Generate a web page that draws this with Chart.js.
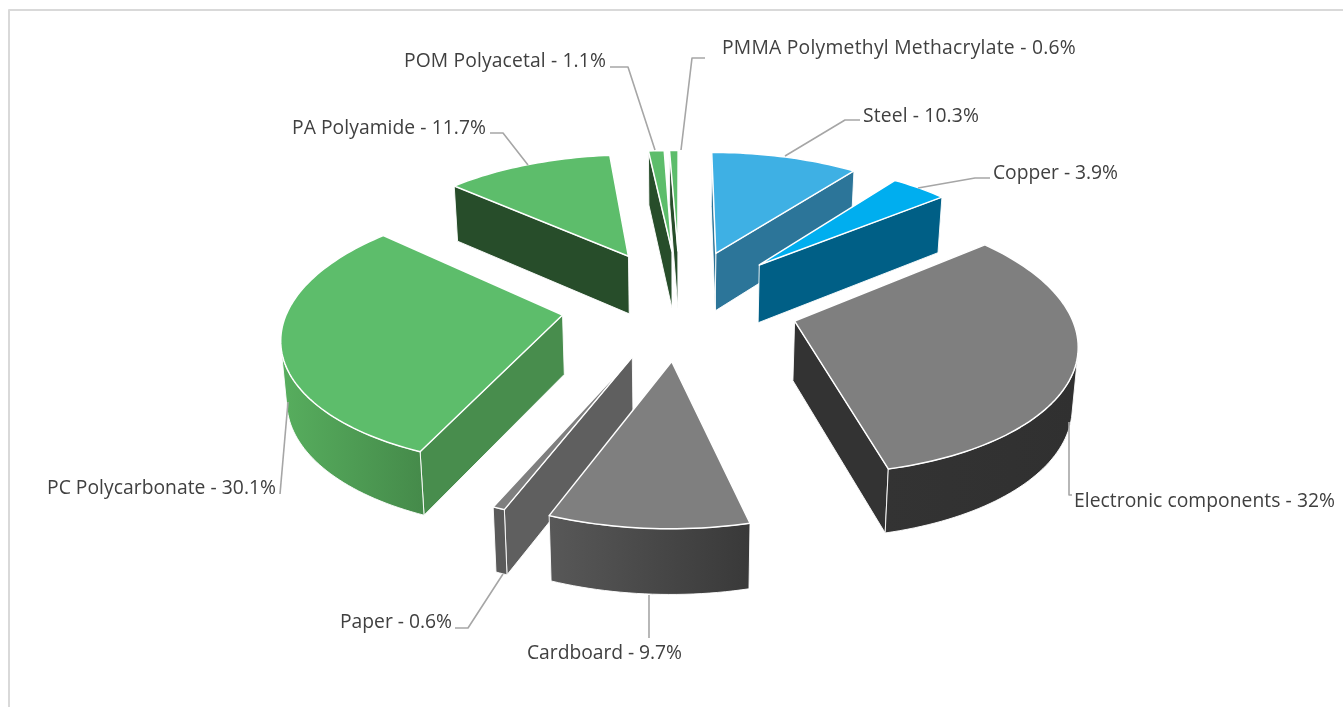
<!DOCTYPE html>
<html><head><meta charset="utf-8">
<style>html,body{margin:0;padding:0;background:#fff}#w{position:absolute;left:0;top:0;width:1343px;height:707px}</style>
<script src="https://cdn.jsdelivr.net/npm/chart.js@4"></script></head>
<body><div id="w"><canvas id="c" width="1343" height="707"></canvas></div>
<script>
const categories=['Steel','Copper','Electronic components','Cardboard','Paper','PC Polycarbonate','PA Polyamide','POM Polyacetal','PMMA Polymethyl Methacrylate'];
const values=[10.3,3.9,32,9.7,0.6,30.1,11.7,1.1,0.6];
const valueText=['10.3%','3.9%','32%','9.7%','0.6%','30.1%','11.7%','1.1%','0.6%'];
const topColors=['#3EB0E4','#00AEEF','#7F7F7F','#7F7F7F','#7F7F7F','#5DBD6B','#5DBD6B','#5DBD6B','#5DBD6B'];
const cutColors=['#2C7599','#005F86','#333333','#5A5A5A','#5F5F5F','#488D4D','#274D2A','#274D2A','#274D2A'];
const wallFrom=['#2C7599','#005F86','#333333','#585858','#5A5A5A','#57AE5E','#274D2A','#274D2A','#274D2A'];
const wallTo=['#2C7599','#005F86','#303030','#393939','#5A5A5A','#458A4A','#274D2A','#274D2A','#274D2A'];
// label layout: text left x, text middle y, text width, leader polyline
const labelX=[863,993,1074,527,340,47,292,404,722];
const labelY=[117,174,502,654,623,489,129,62,49];
const labelW=[116,125,261,155,112,229,194,202,354];
const leaders=[
 [[860,120],[845,120],[785,156]],
 [[990,178],[975,178],[918,188]],
 [[1072,495],[1069,495],[1069,422]],
 [[649,638],[649,595]],
 [[455,628],[468,628],[503,574]],
 [[280,494],[288,402]],
 [[490,133],[503,133],[528,165]],
 [[610,67],[628,67],[655,150]],
 [[705,58],[692,58],[681,150]]];
const EXPLODE=0.435, FLATTEN=0.465, PERSP=0.135, DEPTH=59, CONVERGE=0.985;

function face(ctx,pts,fill,sw,sc){
  ctx.beginPath();pts.forEach((p,i)=>i?ctx.lineTo(p[0],p[1]):ctx.moveTo(p[0],p[1]));ctx.closePath();
  ctx.fillStyle=fill;ctx.fill();
  if(sw){ctx.lineWidth=sw;ctx.strokeStyle=sc;ctx.lineJoin='round';ctx.stroke();}
}
function facesViewer(pts){let s=0;for(let i=0;i<pts.length;i++){const a=pts[i],b=pts[(i+1)%pts.length];s+=a[0]*b[1]-b[0]*a[1];}return s<0;}
const pie3d={id:'pie3d',
 beforeDatasetsDraw(chart){
  const ctx=chart.ctx, arcs=chart.getDatasetMeta(0).data;
  const items=arcs.map((a,i)=>{const p=a.getProps(['x','y','startAngle','endAngle','outerRadius']);
    const mid=(p.startAngle+p.endAngle)/2;return {i,p,mid,ox:Math.cos(mid)*EXPLODE,oy:Math.sin(mid)*EXPLODE};});
  items.sort((a,b)=>a.oy-b.oy);
  for(const it of items){
    const {p,ox,oy,i}=it,R=p.outerRadius;
    const top=(X,Y)=>{const w=1-PERSP*Y;return [p.x+R*X/w,p.y+R*FLATTEN*Y/w,w];};
    const bot=(X,Y)=>{const t=top(X,Y);return [p.x+(t[0]-p.x)*CONVERGE,t[1]+DEPTH*Math.pow(t[2],-0.5)];};
    const n=Math.max(3,Math.ceil((p.endAngle-p.startAngle)*40));
    const rim=[];for(let k=0;k<=n;k++){const a=p.startAngle+(p.endAngle-p.startAngle)*k/n;rim.push([ox+Math.cos(a),oy+Math.sin(a)]);}
    const A=[ox,oy],S=rim[0],E=rim[n];
    const white='rgba(255,255,255,0.9)';
    const c1=[top(...E),top(...A),bot(...A),bot(...E)];
    const c2=[top(...A),top(...S),bot(...S),bot(...A)];
    if(facesViewer(c1)) face(ctx,c1,cutColors[i],1,white);
    if(facesViewer(c2)) face(ctx,c2,cutColors[i],1,white);
    const T=rim.map(q=>top(q[0],q[1])),B=rim.map(q=>bot(q[0],q[1]));
    let first=-1,last=-1;
    for(let k=0;k<n;k++){ if(facesViewer([T[k],T[k+1],B[k+1],B[k]])){ if(first<0)first=k; last=k+1; } }
    if(first>=0){
      const tt=T.slice(first,last+1),bb=B.slice(first,last+1);
      const xs=tt.concat(bb).map(q=>q[0]);
      const g=ctx.createLinearGradient(Math.min(...xs),0,Math.max(...xs),0);
      g.addColorStop(0,wallFrom[i]);g.addColorStop(1,wallTo[i]);
      face(ctx,tt.concat(bb.slice().reverse()),g,1,white);
    }
    face(ctx,[top(...A)].concat(T),topColors[i],1.5,'#ffffff');
  }
  return false;
 },
 afterDraw(chart){
  const ctx=chart.ctx;ctx.save();
  ctx.strokeStyle='#D9D9D9';ctx.lineWidth=2;ctx.beginPath();ctx.moveTo(9,707);ctx.lineTo(9,10);ctx.lineTo(1343,10);ctx.stroke();
  ctx.strokeStyle='#A6A6A6';ctx.lineWidth=1.6;
  leaders.forEach(l=>{ctx.beginPath();l.forEach((p,i)=>i?ctx.lineTo(p[0],p[1]):ctx.moveTo(p[0],p[1]));ctx.stroke();});
  ctx.fillStyle='#404040';ctx.font='19.3px "Open Sans"';ctx.textBaseline='middle';ctx.textAlign='left';
  categories.forEach((c,i)=>{const t=c+' - '+valueText[i];
    ctx.letterSpacing='0px';const m=ctx.measureText(t).width;
    ctx.letterSpacing=((labelW[i]-m)/t.length).toFixed(3)+'px';
    ctx.fillText(t,labelX[i],labelY[i]);});
  ctx.restore();
 }};
new Chart(document.getElementById('c'),{type:'pie',
 data:{labels:categories,datasets:[{data:values,backgroundColor:topColors,borderWidth:0}]},
 options:{responsive:false,animation:false,rotation:0,
  layout:{padding:{left:17,right:0,top:30,bottom:131}},
  plugins:{legend:{display:false},tooltip:{enabled:false}}},
 plugins:[pie3d]});
</script></body></html>
